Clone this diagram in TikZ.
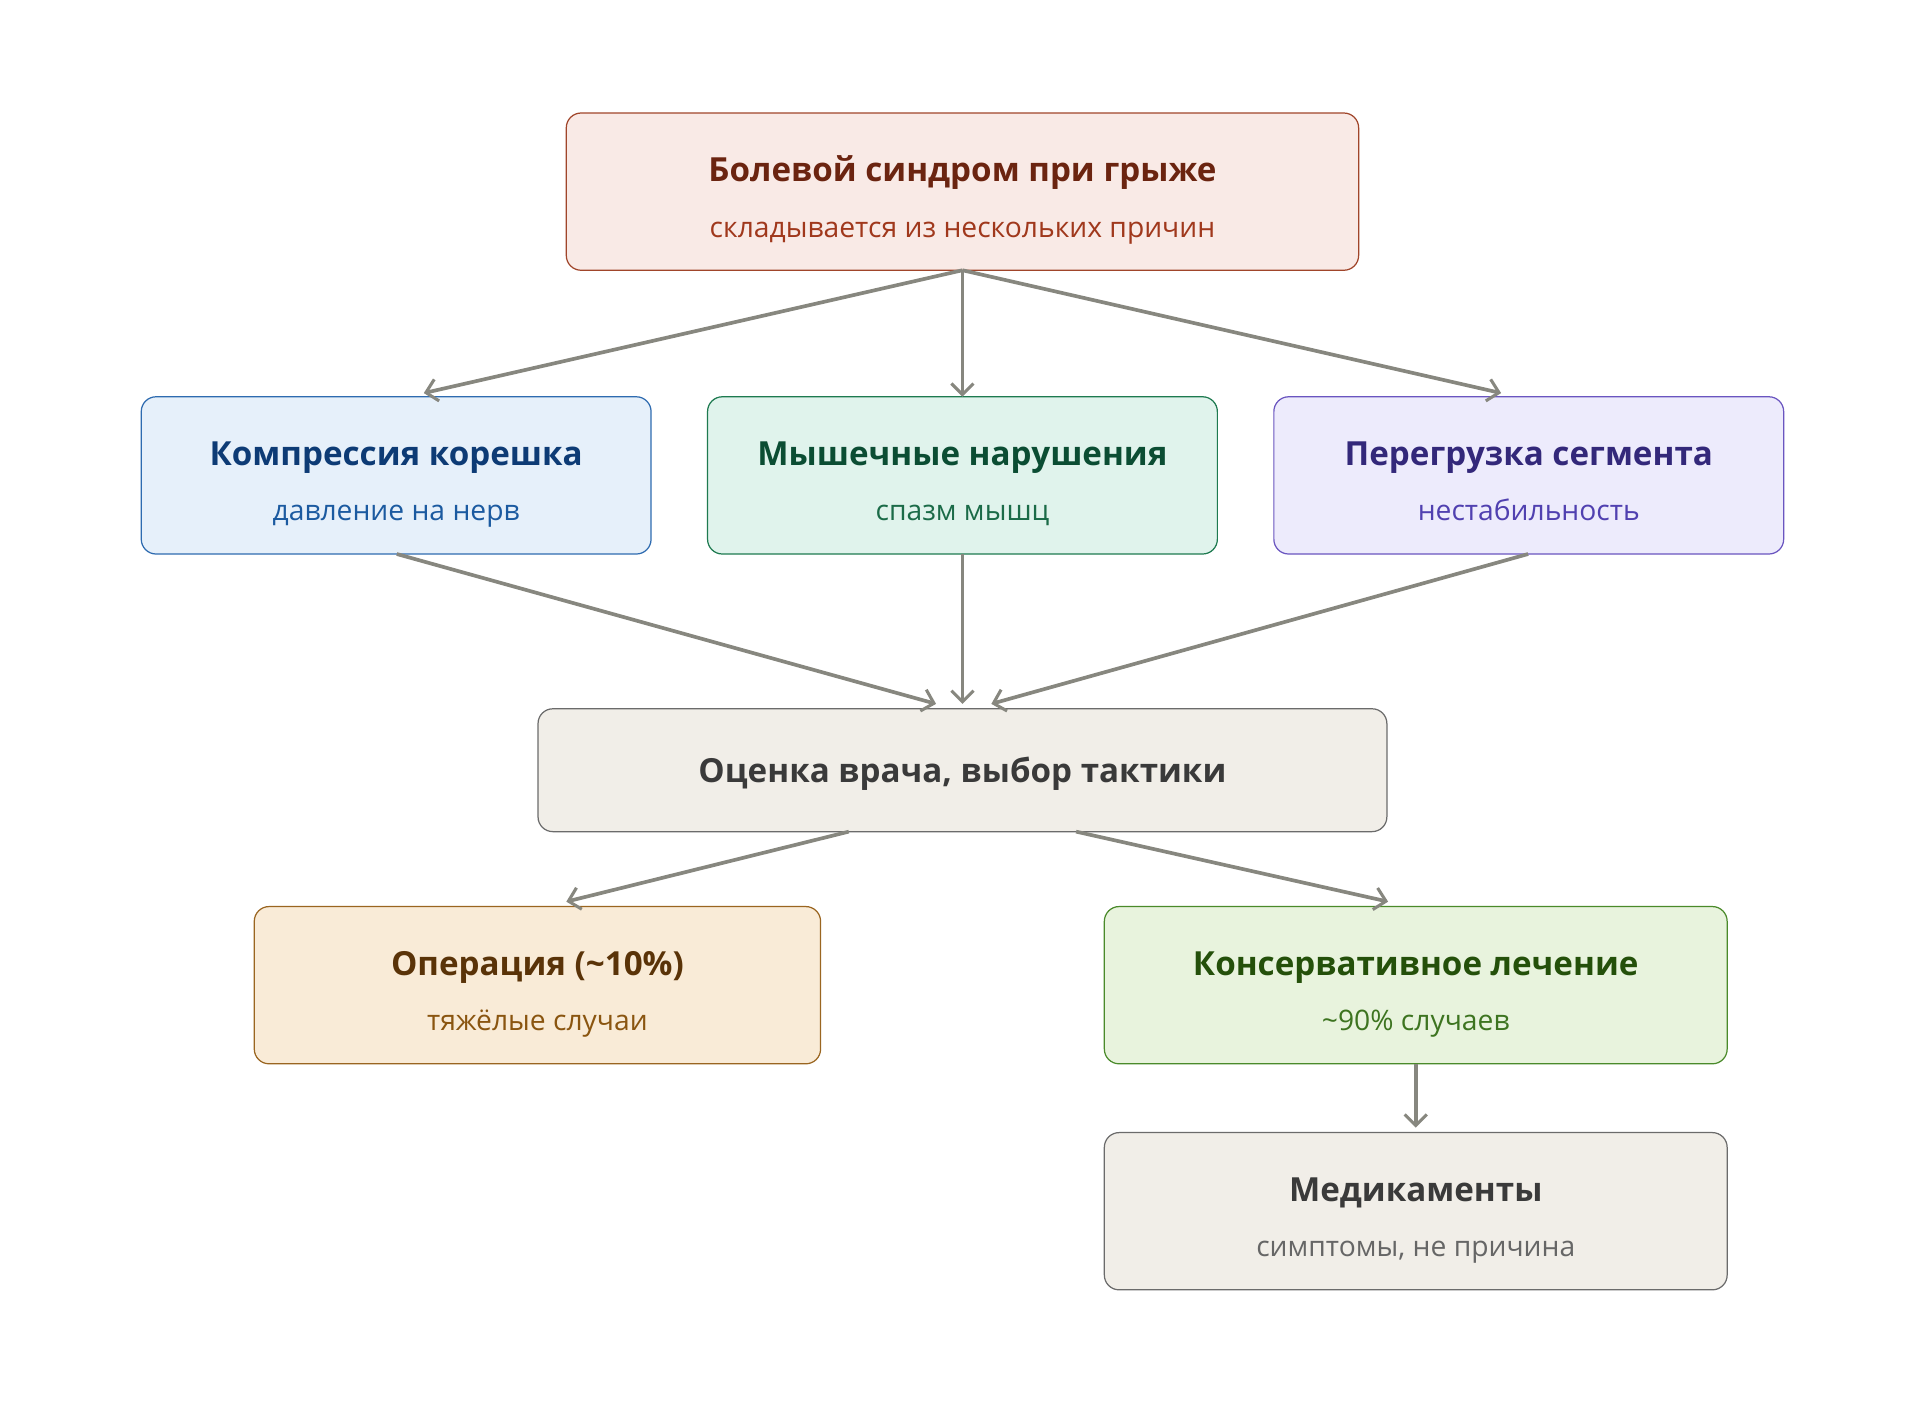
\documentclass[tikz,border=0pt]{standalone}
\usepackage{fontspec}
\setmainfont{Open Sans}
\usetikzlibrary{arrows.meta}
\definecolor{arr}{HTML}{87877F}
\definecolor{rF}{HTML}{F9EAE6}\definecolor{rD}{HTML}{A0452A}\definecolor{rT}{HTML}{6B2410}\definecolor{rS}{HTML}{A0381C}
\definecolor{bF}{HTML}{E6F0FA}\definecolor{bD}{HTML}{2E6BB0}\definecolor{bT}{HTML}{0D3B75}\definecolor{bS}{HTML}{1B5AA0}
\definecolor{gF}{HTML}{E0F3EC}\definecolor{gD}{HTML}{1E7A50}\definecolor{gT}{HTML}{0B4D33}\definecolor{gS}{HTML}{1B6B48}
\definecolor{pF}{HTML}{EDEBFC}\definecolor{pD}{HTML}{6A55C0}\definecolor{pT}{HTML}{33287A}\definecolor{pS}{HTML}{5040B0}
\definecolor{eF}{HTML}{F1EEE8}\definecolor{eD}{HTML}{6B6B6B}\definecolor{eT}{HTML}{3A3A3A}\definecolor{eS}{HTML}{666666}
\definecolor{oF}{HTML}{F9EBD7}\definecolor{oD}{HTML}{9A6520}\definecolor{oT}{HTML}{5A3308}\definecolor{oS}{HTML}{8A5510}
\definecolor{cF}{HTML}{E8F3DD}\definecolor{cD}{HTML}{4A8A2A}\definecolor{cT}{HTML}{24500A}\definecolor{cS}{HTML}{3D7420}
\tikzset{
 box/.style={draw, rounded corners=12pt, line width=1pt},
 ttl/.style={font=\fontsize{27}{32}\selectfont\bfseries, text height=20pt, text depth=6pt},
 sub/.style={font=\fontsize{23}{28}\selectfont, text height=17pt, text depth=5pt},
 ar/.style={draw=arr, line width=3pt, -{Straight Barb[length=9pt,width=18pt,line width=2.5pt]}},
}
\newcommand\bx[7]{%
 \draw[box, fill=#6, draw=#7] (#2,#3) rectangle (#4,#5);
 \coordinate (#1) at ({(#2+#4)/2},{(#3+#5)/2});
 \coordinate (#1-n) at ({(#2+#4)/2},#3);
 \coordinate (#1-s) at ({(#2+#4)/2},#5);
}
\newcommand\tld{{\char"7E}}
\begin{document}
\begin{tikzpicture}[x=1pt,y=-1pt]
\useasboundingbox (0,0) rectangle (1563,1150);
\bx{top}{461}{92}{1106}{220}{rF}{rD}
\node[ttl, text=rT] (topt) at (783.5,141) {Болевой синдром при грыже};
\node[sub, text=rS] (tops) at (783.5,187) {складывается из нескольких причин};
\bx{a}{115}{323}{530}{451}{bF}{bD}
\node[ttl, text=bT] (at) at (322.5,372) {Компрессия корешка};
\node[sub, text=bS] (as) at (322.5,418) {давление на нерв};
\bx{b}{576}{323}{991}{451}{gF}{gD}
\node[ttl, text=gT] (bt) at (783.5,372) {Мышечные нарушения};
\node[sub, text=gS] (bs) at (783.5,418) {спазм мышц};
\bx{c}{1037}{323}{1452}{451}{pF}{pD}
\node[ttl, text=pT] (ct) at (1244.5,372) {Перегрузка сегмента};
\node[sub, text=pS] (cs) at (1244.5,418) {нестабильность};
\bx{e}{438}{577}{1129}{677}{eF}{eD}
\node[ttl, text=eT] (et) at (783.5,630) {Оценка врача, выбор тактики};
\bx{o}{207}{738}{668}{866}{oF}{oD}
\node[ttl, text=oT] (ot) at (437.5,787) {Операция (\tld10\%)};
\node[sub, text=oS] (os) at (437.5,833) {тяжёлые случаи};
\bx{k}{899}{738}{1406}{866}{cF}{cD}
\node[ttl, text=cT] (kt) at (1152.5,787) {Консервативное лечение};
\node[sub, text=cS] (ks) at (1152.5,833) {\tld90\% случаев};
\bx{m}{899}{922}{1406}{1050}{eF}{eD}
\node[ttl, text=eT] (mt) at (1152.5,971) {Медикаменты};
\node[sub, text=eS] (ms) at (1152.5,1017) {симптомы, не причина};
% connectors
\coordinate (ta) at (345,320); \coordinate (tc) at (1222,320);
\coordinate (ea) at (762,573); \coordinate (eb) at (783.5,573); \coordinate (ec) at (807,573);
\coordinate (a-f) at (323,451); \coordinate (c-f) at (1244,451);
\coordinate (e-l) at (691,677); \coordinate (e-r) at (876,677);
\coordinate (ol) at (461,734); \coordinate (kr) at (1130,734);
\coordinate (kn) at (1152.5,918);
\draw[ar] (top-s) -- (ta);
\draw[ar] (top-s) -- (b-n);
\draw[ar] (top-s) -- (tc);
\draw[ar] (a-f) -- (ea);
\draw[ar] (b-s) -- (eb);
\draw[ar] (c-f) -- (ec);
\draw[ar] (e-l) -- (ol);
\draw[ar] (e-r) -- (kr);
\draw[ar] (k-s) -- (kn);
\end{tikzpicture}
\end{document}
